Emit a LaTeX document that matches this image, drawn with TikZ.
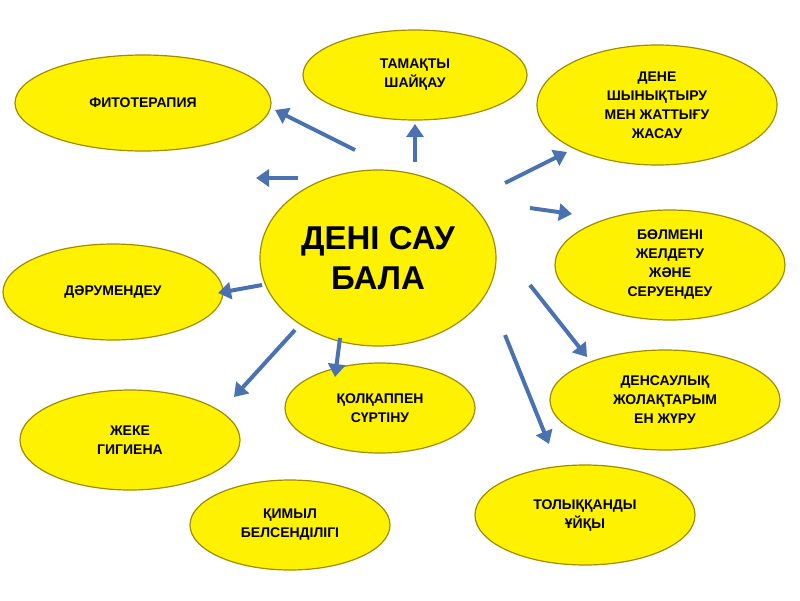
\documentclass[tikz,border=0pt]{standalone}
\usepackage{fontspec}
\setmainfont{Liberation Sans}
\usetikzlibrary{shapes.geometric,arrows.meta}
\definecolor{arrowblue}{HTML}{4A72B0}
\definecolor{rimgold}{HTML}{A08C00}
\tikzset{
  blob/.style={ellipse,draw=rimgold,line width=1.2pt,fill=yellow,inner sep=0pt,
    align=center,font=\bfseries\fontsize{14}{19}\selectfont},
  pointer/.style={draw=arrowblue,line width=4pt,-{Triangle[length=13pt,width=17pt]}}
}
\begin{document}
\begin{tikzpicture}[x=1pt,y=-1pt]
  \useasboundingbox (0,0) rectangle (800,600);
  \node[blob,minimum width=236pt,minimum height=176pt,font=\bfseries\fontsize{33}{40}\selectfont] (centre) at (378,258) {ДЕНІ САУ\\БАЛА};
  \node[blob,minimum width=256pt,minimum height=96pt] (fito) at (143,103) {ФИТОТЕРАПИЯ};
  \node[blob,minimum width=224pt,minimum height=90pt] (tamaq) at (415,75) {ТАМАҚТЫ\\ШАЙҚАУ};
  \node[blob,minimum width=240pt,minimum height=120pt] (dene) at (657,105) {ДЕНЕ\\ШЫНЫҚТЫРУ\\МЕН ЖАТТЫҒУ\\ЖАСАУ};
  \node[blob,minimum width=230pt,minimum height=110pt] (bolme) at (670,265) {БӨЛМЕНІ\\ЖЕЛДЕТУ\\ЖӘНЕ\\СЕРУЕНДЕУ};
  \node[blob,minimum width=220pt,minimum height=96pt] (darum) at (113,292) {ДӘРУМЕНДЕУ};
  \node[blob,minimum width=230pt,minimum height=100pt] (densau) at (665,400) {ДЕНСАУЛЫҚ\\ЖОЛАҚТАРЫМ\\ЕН ЖҮРУ};
  \node[blob,minimum width=220pt,minimum height=100pt] (zheke) at (130,440) {ЖЕКЕ\\ГИГИЕНА};
  \node[blob,minimum width=190pt,minimum height=90pt] (qolqap) at (380,408) {ҚОЛҚАППЕН\\СҮРТІНУ};
  \node[blob,minimum width=200pt,minimum height=90pt] (qimyl) at (290,525) {ҚИМЫЛ\\БЕЛСЕНДІЛІГІ};
  \node[blob,minimum width=220pt,minimum height=100pt] (tolyq) at (585,515) {ТОЛЫҚҚАНДЫ\\ҰЙҚЫ};
  % arrows around the centre
  \draw[pointer] (355,150) -- (275,110);
  \draw[pointer] (298,178) -- (256,178);
  \draw[pointer] (415,162) -- (415,124);
  \draw[pointer] (505,183) -- (567,152);
  \draw[pointer] (530,208) -- (572,214);
  \draw[pointer] (262,285) -- (218,293);
  \draw[pointer] (295,330) -- (234,397);
  \draw[pointer] (340,338) -- (335,377);
  \draw[pointer] (530,285) -- (587,357);
  \draw[pointer] (505,335) -- (549,444);
\end{tikzpicture}
\end{document}
